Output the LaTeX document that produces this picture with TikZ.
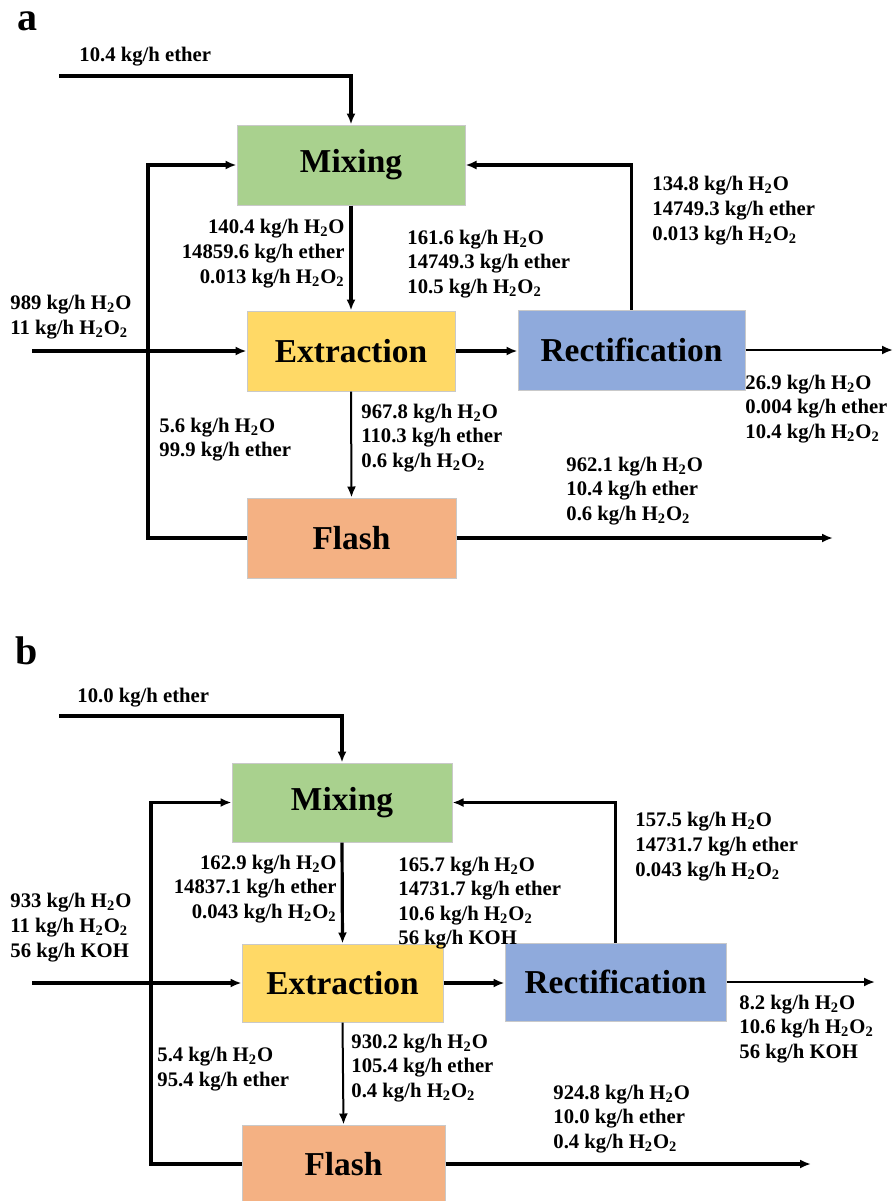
\documentclass[tikz,border=0pt]{standalone}
\usepackage{fontspec}
\setmainfont{Liberation Serif}
\usetikzlibrary{arrows.meta}
\definecolor{mixgreen}{HTML}{A9D18E}
\definecolor{extyellow}{HTML}{FFD966}
\definecolor{recblue}{HTML}{8FAADC}
\definecolor{flashorange}{HTML}{F4B183}
\definecolor{boxedge}{HTML}{C9C9C9}
\tikzset{>={Latex[length=5.5pt,width=4.5pt]}}
\tikzset{
  unit/.style = {draw = boxedge, line width = 0.5pt, inner sep = 0pt, font = \fontsize{16.7}{20}\selectfont\bfseries},
  flow/.style = {->, line width = 1.6pt},
  thinflow/.style = {->, line width = 1pt},
  stream/.style = {inner sep = 0pt, font = \fontsize{10.35}{12.3}\selectfont\bfseries},
  panel/.style = {inner sep = 0pt, font = \fontsize{20}{24}\selectfont\bfseries}
}
\newcommand{\htwoo}{H\textsubscript{2}O}
\newcommand{\htwootwo}{H\textsubscript{2}O\textsubscript{2}}

\begin{document}
\begin{tikzpicture}[x = 0.5pt, y = -0.5pt]
\useasboundingbox (0,0) rectangle (894,1201);

% panel a
\begin{scope}
\node[panel, anchor = base west] (tagA) at (17, 30) {a};

\node[unit, fill = mixgreen, minimum width = 114pt, minimum height = 40pt] (mixA) at (351, 165) {Mixing};
\node[unit, fill = extyellow, minimum width = 104pt, minimum height = 40pt] (extA) at (351, 351) {Extraction};
\node[unit, fill = recblue, minimum width = 113.5pt, minimum height = 40pt] (recA) at (631.5, 350) {Rectification};
\node[unit, fill = flashorange, minimum width = 104.5pt, minimum height = 40pt] (flaA) at (351.5, 538) {Flash};

\coordinate (etherA) at (59, 76);
\coordinate (feedA) at (32, 351);
\coordinate (loopA) at (148, 538);
\coordinate (topoutA) at (893, 350);
\coordinate (botoutA) at (833, 538);

\draw[flow] (etherA) -| (mixA.north);
\draw[flow] (mixA.south) -- (extA.north);
\draw[flow] (feedA) -- (extA.west);
\draw[flow] (extA.east) -- (extA.east -| recA.west);
\draw[flow] (recA.north) |- (mixA.east);
\draw[thinflow] (recA.east) -- (topoutA);
\draw[thinflow] (extA.south) -- (flaA.north);
\draw[flow] (flaA.east) -- (botoutA);
\draw[flow] (flaA.west) -- (loopA) -- (loopA |- mixA.west) -- (mixA.west);

\node[stream, anchor = west] (lblEtherA) at (79, 57) {10.4 kg/h ether};
\node[stream, anchor = east, align = right] (lblMixA) at (345, 253.5) {140.4 kg/h \htwoo\\14859.6 kg/h ether\\0.013 kg/h \htwootwo};
\node[stream, anchor = west, align = left] (lblExtA) at (407, 264) {161.6 kg/h \htwoo\\14749.3 kg/h ether\\10.5 kg/h \htwootwo};
\node[stream, anchor = west, align = left] (lblRecycleA) at (652, 210.5) {134.8 kg/h \htwoo\\14749.3 kg/h ether\\0.013 kg/h \htwootwo};
\node[stream, anchor = west, align = left] (lblFeedA) at (10, 317) {989 kg/h \htwoo\\11 kg/h \htwootwo};
\node[stream, anchor = west, align = left] (lblLoopA) at (159, 439.5) {5.6 kg/h \htwoo\\99.9 kg/h ether};
\node[stream, anchor = west, align = left] (lblFlaA) at (361, 438) {967.8 kg/h \htwoo\\110.3 kg/h ether\\0.6 kg/h \htwootwo};
\node[stream, anchor = west, align = left] (lblTopA) at (745, 409) {26.9 kg/h \htwoo\\0.004 kg/h ether\\10.4 kg/h \htwootwo};
\node[stream, anchor = west, align = left] (lblBotA) at (566, 491) {962.1 kg/h \htwoo\\10.4 kg/h ether\\0.6 kg/h \htwootwo};
\end{scope}

% panel b
\begin{scope}
\node[panel, anchor = base west] (tagB) at (15, 664) {b};

\node[unit, fill = mixgreen, minimum width = 110pt, minimum height = 39.5pt] (mixB) at (342, 802.5) {Mixing};
\node[unit, fill = extyellow, minimum width = 100.5pt, minimum height = 39pt] (extB) at (342.5, 983) {Extraction};
\node[unit, fill = recblue, minimum width = 110.5pt, minimum height = 39pt] (recB) at (615.5, 982) {Rectification};
\node[unit, fill = flashorange, minimum width = 101.5pt, minimum height = 39pt] (flaB) at (343.5, 1164) {Flash};

\coordinate (etherB) at (59, 716);
\coordinate (feedB) at (32, 983);
\coordinate (loopB) at (151, 1164);
\coordinate (topoutB) at (875, 982);
\coordinate (botoutB) at (811, 1164);

\draw[flow] (etherB) -| (mixB.north);
\draw[flow] (mixB.south) -- (extB.north);
\draw[flow] (feedB) -- (extB.west);
\draw[flow] (extB.east) -- (extB.east -| recB.west);
\draw[flow] (recB.north) |- (mixB.east);
\draw[thinflow] (recB.east) -- (topoutB);
\draw[thinflow] (extB.south) -- (flaB.north);
\draw[flow] (flaB.east) -- (botoutB);
\draw[flow] (flaB.west) -- (loopB) -- (loopB |- mixB.west) -- (mixB.west);

\node[stream, anchor = west] (lblEtherB) at (77, 698) {10.0 kg/h ether};
\node[stream, anchor = east, align = right] (lblMixB) at (337, 889) {162.9 kg/h \htwoo\\14837.1 kg/h ether\\0.043 kg/h \htwootwo};
\node[stream, anchor = west, align = left] (lblExtB) at (398, 903) {165.7 kg/h \htwoo\\14731.7 kg/h ether\\10.6 kg/h \htwootwo\\56 kg/h KOH};
\node[stream, anchor = west, align = left] (lblRecycleB) at (635, 846.5) {157.5 kg/h \htwoo\\14731.7 kg/h ether\\0.043 kg/h \htwootwo};
\node[stream, anchor = west, align = left] (lblFeedB) at (10, 927.5) {933 kg/h \htwoo\\11 kg/h \htwootwo\\56 kg/h KOH};
\node[stream, anchor = west, align = left] (lblLoopB) at (157, 1069) {5.4 kg/h \htwoo\\95.4 kg/h ether};
\node[stream, anchor = west, align = left] (lblFlaB) at (351, 1068) {930.2 kg/h \htwoo\\105.4 kg/h ether\\0.4 kg/h \htwootwo};
\node[stream, anchor = west, align = left] (lblTopB) at (739, 1029) {8.2 kg/h \htwoo\\10.6 kg/h \htwootwo\\56 kg/h KOH};
\node[stream, anchor = west, align = left] (lblBotB) at (553, 1119) {924.8 kg/h \htwoo\\10.0 kg/h ether\\0.4 kg/h \htwootwo};
\end{scope}

\end{tikzpicture}
\end{document}
